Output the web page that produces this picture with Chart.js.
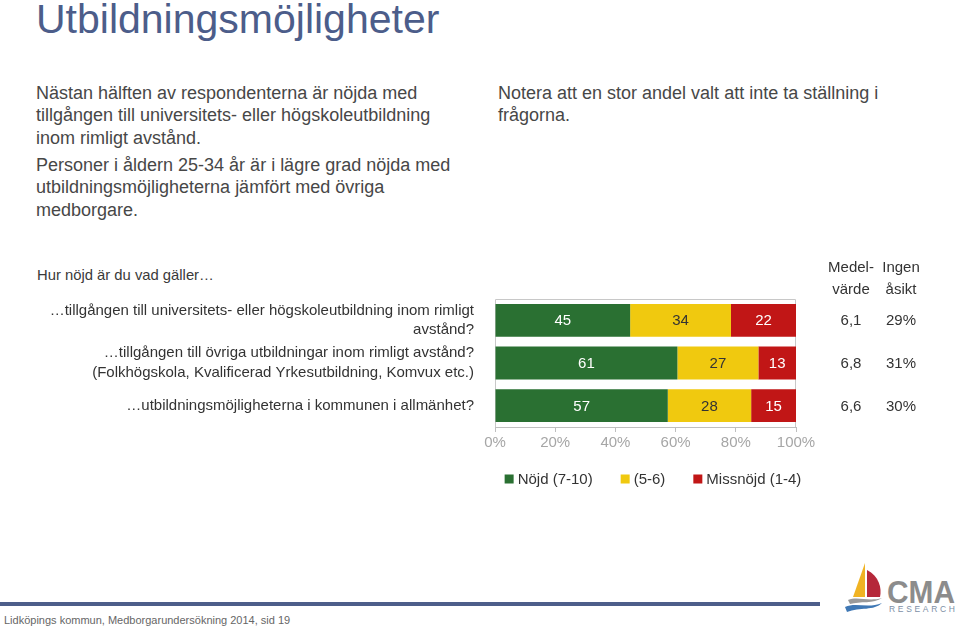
<!DOCTYPE html>
<html lang="sv">
<head>
<meta charset="utf-8">
<script src="https://cdn.jsdelivr.net/npm/chart.js@4/dist/chart.umd.min.js"></script>
<style>
  html, body { margin: 0; padding: 0; background: #ffffff; }
  body { width: 960px; height: 627px; position: relative; overflow: hidden; font-family: "Liberation Sans", Arial, Helvetica, sans-serif; }
  .abs { position: absolute; white-space: nowrap; }
  #title { left: 36px; top: -5px; font-size: 41px; line-height: 48px; color: #4c5d8a; }
  .para { font-size: 18px; line-height: 22.3px; color: #474747; }
  #p1 { left: 36px; top: 82px; }
  #p2 { left: 36px; top: 154px; }
  #p3 { left: 498px; top: 82px; }
  #question { left: 37px; top: 266px; font-size: 14.8px; line-height: 18px; color: #3a3a3a; }
  #chartBox { position: absolute; left: 0; top: 240px; width: 960px; height: 270px; }
  #footLine { position: absolute; left: 0; top: 602px; width: 820px; height: 4px; background: #4d5e8a; }
  #footText { left: 4px; top: 613px; font-size: 11px; line-height: 14px; color: #666666; }
  #logo { position: absolute; left: 838px; top: 560px; }
</style>
</head>
<body>
<div id="title" class="abs">Utbildningsmöjligheter</div>
<div id="p1" class="abs para">Nästan hälften av respondenterna är nöjda med<br>tillgången till universitets- eller högskoleutbildning<br>inom rimligt avstånd.</div>
<div id="p2" class="abs para">Personer i åldern 25-34 år är i lägre grad nöjda med<br>utbildningsmöjligheterna jämfört med övriga<br>medborgare.</div>
<div id="p3" class="abs para">Notera att en stor andel valt att inte ta ställning i<br>frågorna.</div>
<div id="question" class="abs">Hur nöjd är du vad gäller…</div>

<div id="chartBox"><canvas id="chart" width="960" height="270"></canvas></div>

<div id="footLine"></div>
<div id="footText" class="abs">Lidköpings kommun, Medborgarundersökning 2014, sid 19</div>
<svg id="logo" width="122" height="56" viewBox="0 0 122 56">
  <path d="M27 3 L15 37 L27 37 Z" fill="#f0b323"/>
  <path d="M29 10 C41 16 44 28 42 37 L29 37 Z" fill="#b5283a"/>
  <path d="M10 40 C20 36 30 42 44 38 C36 44 22 41 12 44 Z" fill="#9a9a9a"/>
  <path d="M7 47 C18 42 30 49 44 43 C36 51 22 47 9 52 Z" fill="#3f78b5"/>
  <text x="49" y="43" font-family="Liberation Sans, Arial, sans-serif" font-weight="bold" font-size="32" fill="#8c8c8c" textLength="68" lengthAdjust="spacingAndGlyphs">CMA</text>
  <text x="51" y="52" font-family="Liberation Sans, Arial, sans-serif" font-size="8.5" fill="#7d8fa6" textLength="66" lengthAdjust="spacing">RESEARCH</text>
</svg>

<script>
// ---- Data ----
const categories = [
  ['…tillgången till universitets- eller högskoleutbildning inom rimligt', 'avstånd?'],
  ['…tillgången till övriga utbildningar inom rimligt avstånd?', '(Folkhögskola, Kvalificerad Yrkesutbildning, Komvux etc.)'],
  '…utbildningsmöjligheterna i kommunen i allmänhet?'
];
const satisfied    = [44.9, 60.6, 57.4];  // Nöjd (7-10)
const neutral      = [33.5, 26.9, 27.7];  // (5-6)
const dissatisfied = [21.6, 12.5, 14.9];  // Missnöjd (1-4)
const seriesNames = ['Nöjd (7-10)', '(5-6)', 'Missnöjd (1-4)'];
const meanValues  = ['6,1', '6,8', '6,6'];
const noOpinion   = ['29%', '31%', '30%'];
const xTicks      = [0, 20, 40, 60, 80, 100];

const colors = ['#2a7032', '#f0c90f', '#c11616'];
const labelColors = ['#ffffff', '#333333', '#ffffff'];
const FONT = '"Liberation Sans", Arial, Helvetica, sans-serif';

const extrasPlugin = {
  id: 'extras',
  beforeDatasetsDraw(chart) {
    const { ctx, chartArea: a } = chart;
    ctx.save();
    ctx.strokeStyle = '#c8c8c8';
    ctx.lineWidth = 1;
    ctx.beginPath();
    ctx.moveTo(a.left + 0.5, a.bottom);
    ctx.lineTo(a.left + 0.5, a.top + 0.5);
    ctx.lineTo(a.right - 0.5, a.top + 0.5);
    ctx.lineTo(a.right - 0.5, a.bottom);
    ctx.stroke();
    ctx.restore();
  },
  afterDatasetsDraw(chart) {
    const { ctx, chartArea: a } = chart;
    ctx.save();
    ctx.font = '15px ' + FONT;
    ctx.textAlign = 'center';
    ctx.textBaseline = 'middle';
    // value labels inside segments
    chart.data.datasets.forEach((ds, di) => {
      const meta = chart.getDatasetMeta(di);
      meta.data.forEach((bar, i) => {
        const v = ds.data[i];
        ctx.fillStyle = labelColors[di];
        ctx.fillText(String(Math.round(v)), (bar.x + bar.base) / 2, bar.y + 1);
      });
    });
    // right-hand columns
    const colMean = a.right + 55, colNone = a.right + 105;
    ctx.fillStyle = '#333333';
    ctx.fillText('Medel-', colMean, a.top - 31);
    ctx.fillText('värde', colMean, a.top - 9);
    ctx.fillText('Ingen', colNone, a.top - 31);
    ctx.fillText('åsikt', colNone, a.top - 9);
    const yScale = chart.scales.y;
    meanValues.forEach((m, i) => {
      const y = yScale.getPixelForValue(i) + 1;
      ctx.fillText(m, colMean, y);
      ctx.fillText(noOpinion[i], colNone, y);
    });
    // legend
    const legY = a.bottom + 52;
    const box = 9, gapBox = 4, gapItem = 28;
    ctx.textAlign = 'left';
    const widths = chart.data.datasets.map(ds => ctx.measureText(ds.label).width);
    const total = widths.reduce((s, w) => s + box + gapBox + w, 0) + gapItem * (widths.length - 1);
    let x = 653 - total / 2;
    chart.data.datasets.forEach((ds, di) => {
      ctx.fillStyle = ds.backgroundColor;
      ctx.fillRect(x, legY - box / 2, box, box);
      ctx.fillStyle = '#333333';
      ctx.fillText(ds.label, x + box + gapBox, legY + 1);
      x += box + gapBox + widths[di] + gapItem;
    });
    ctx.restore();
  }
};

new Chart(document.getElementById('chart'), {
  type: 'bar',
  data: {
    labels: categories,
    datasets: [
      { label: seriesNames[0], data: satisfied, backgroundColor: colors[0] },
      { label: seriesNames[1], data: neutral, backgroundColor: colors[1] },
      { label: seriesNames[2], data: dissatisfied, backgroundColor: colors[2] }
    ]
  },
  options: {
    indexAxis: 'y',
    responsive: false,
    animation: false,
    maintainAspectRatio: false,
    layout: { padding: { top: 59, right: 164, bottom: 56, left: 0 } },
    datasets: { bar: { categoryPercentage: 1, barPercentage: 0.77, borderWidth: 0 } },
    plugins: { legend: { display: false }, tooltip: { enabled: false } },
    scales: {
      x: {
        stacked: true, min: 0, max: 100,
        afterBuildTicks(scale) { scale.ticks = xTicks.map(v => ({ value: v })); },
        ticks: { callback: v => v + '%', color: '#a6a6a6', font: { family: FONT, size: 15 }, padding: 2, maxRotation: 0 },
        grid: { display: true, drawOnChartArea: false, drawTicks: true, tickLength: 5, color: '#bfbfbf' },
        border: { display: true, color: '#bfbfbf' }
      },
      y: {
        stacked: true,
        afterFit(scale) { scale.width = 495; },
        ticks: { color: '#333333', font: { family: FONT, size: 15, lineHeight: 1.3 }, padding: 21, autoSkip: false },
        grid: { display: false, drawTicks: false },
        border: { display: false }
      }
    }
  },
  plugins: [extrasPlugin]
});
</script>
</body>
</html>
